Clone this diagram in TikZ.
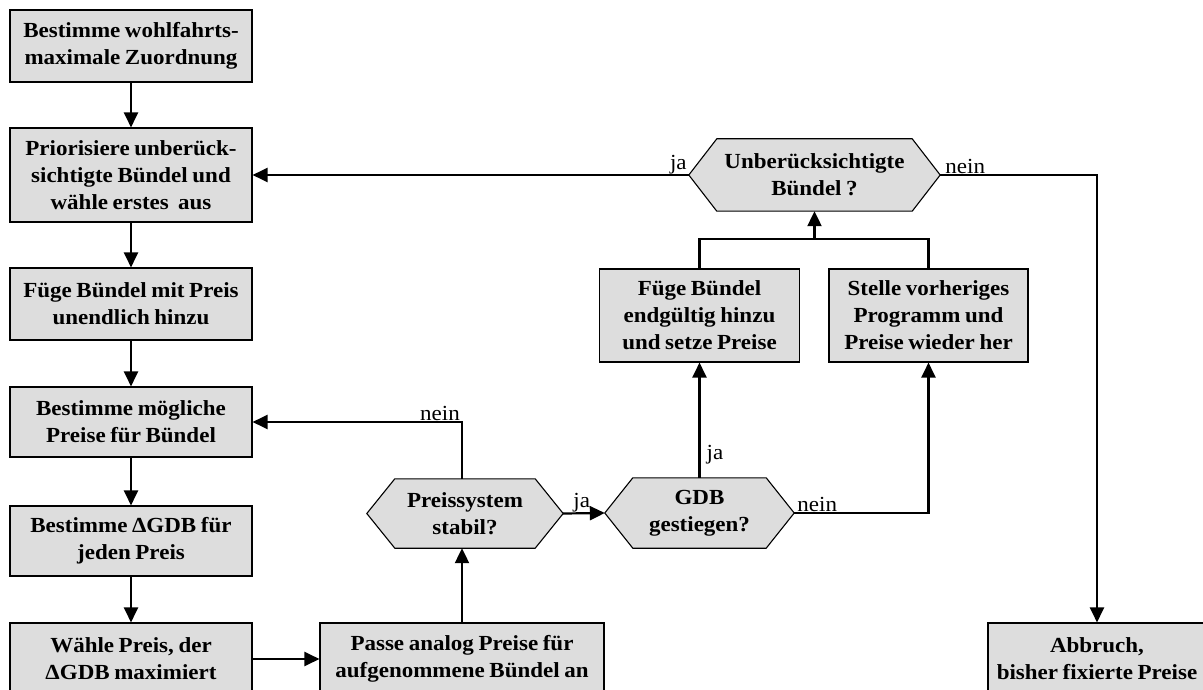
\documentclass[tikz,border=0pt]{standalone}
\usepackage{fontspec}
\setmainfont{Liberation Serif}[FakeStretch=1.07, WordSpace=0.8]
\usetikzlibrary{arrows.meta,backgrounds}
\definecolor{boxfill}{RGB}{221,221,221}
\begin{document}
\begin{tikzpicture}[x=1pt,y=-1pt,
  stepbox/.style={draw, line width=1.1pt, fill=boxfill, inner sep=0pt,
    align=center, font=\fontsize{21.5}{27}\selectfont\bfseries},
  decision/.style={inner sep=0pt, align=center,
    font=\fontsize{21.5}{27}\selectfont\bfseries},
  hexline/.style={draw, line width=1.1pt, fill=boxfill},
  link/.style={line width=2.2pt},
  flow/.style={line width=2.2pt, -{Triangle[length=15pt,width=14pt]}},
  lbl/.style={inner sep=1pt, font=\fontsize{21.5}{24}\selectfont}
]
\useasboundingbox (0,0) rectangle (1203,690);

% left column of steps
\node[stepbox, minimum width=242pt, minimum height=72pt] (b1) at (131,46)
  {Bestimme wohlfahrts-\\maximale Zuordnung};
\node[stepbox, minimum width=242pt, minimum height=94pt] (b2) at (131,175)
  {Priorisiere unberück-\\sichtigte Bündel und\\wähle erstes~~aus};
\node[stepbox, minimum width=242pt, minimum height=72pt] (b3) at (131,304)
  {Füge Bündel mit Preis\\unendlich hinzu};
\node[stepbox, minimum width=242pt, minimum height=70pt] (b4) at (131,422)
  {Bestimme mögliche\\Preise für Bündel};
\node[stepbox, minimum width=242pt, minimum height=70pt] (b5) at (131,541)
  {Bestimme ΔGDB für\\jeden Preis};
\node[stepbox, minimum width=242pt, minimum height=72pt] (b6) at (131,659)
  {Wähle Preis, der\\ΔGDB maximiert};

% lower middle
\node[stepbox, minimum width=284pt, minimum height=72pt] (passe) at (462,659)
  {Passe analog Preise für\\aufgenommene Bündel an};
\node[decision, minimum width=196pt, minimum height=69pt] (preis) at (465,513.5)
  {Preissystem\\stabil?};
\node[decision, minimum width=189pt, minimum height=70pt] (gdb) at (699.5,513)
  {GDB\\gestiegen?};

% upper right
\node[stepbox, minimum width=200pt, minimum height=93pt] (fend) at (699.5,315.5)
  {Füge Bündel\\endgültig hinzu\\und setze Preise};
\node[stepbox, minimum width=199pt, minimum height=93pt] (stelle) at (928.5,315.5)
  {Stelle vorheriges\\Programm und\\Preise wieder her};
\node[decision, minimum width=251pt, minimum height=72pt] (unb) at (814.5,175)
  {Unberücksichtigte\\Bündel ?};
\node[stepbox, minimum width=218pt, minimum height=72pt] (abb) at (1097,659)
  {Abbruch,\\bisher fixierte Preise};

% hexagonal outlines of the decisions
\begin{scope}[on background layer]
  \foreach \n in {preis,gdb,unb}
    \path[hexline] (\n.west) -- ([xshift=28pt]\n.north west)
      -- ([xshift=-28pt]\n.north east) -- (\n.east)
      -- ([xshift=-28pt]\n.south east) -- ([xshift=28pt]\n.south west) -- cycle;
\end{scope}

% connectors
\draw[flow] (b1) -- (b2);
\draw[flow] (b2) -- (b3);
\draw[flow] (b3) -- (b4);
\draw[flow] (b4) -- (b5);
\draw[flow] (b5) -- (b6);
\draw[flow] (b6.east) -- (passe.west);
\draw[flow] (passe.north) -- (passe.north |- preis.south);

\coordinate (pn) at (passe.north |- preis.north);
\draw[flow] (pn) |- (b4.east);
\node[lbl, anchor=south east] at ([xshift=-1pt]pn |- b4.east) {nein};

\draw[flow] (preis.east) -- (gdb.west);
\node[lbl, anchor=south west] at ([xshift=9pt]preis.east) {ja};

\draw[flow] (gdb.north) -- (fend.south);
\node[lbl, anchor=south west] at ([xshift=6pt,yshift=13pt]gdb.north) {ja};

\draw[flow] (gdb.east) -| (stelle.south);
\node[lbl, anchor=south west] at ([xshift=2pt]gdb.east) {nein};

\coordinate (merge) at (unb.south |- 0,239);
\draw[link] (fend.north) |- (merge) -| (stelle.north);
\draw[flow] (merge) -- (unb.south);

\draw[flow] (unb.west) -- (unb.west -| b2.east);
\node[lbl, anchor=south east] at ([xshift=-1pt]unb.west) {ja};

\draw[flow] (unb.east) -| (abb.north);
\node[lbl, anchor=south west] at ([xshift=4pt]unb.east) {nein};
\end{tikzpicture}
\end{document}
